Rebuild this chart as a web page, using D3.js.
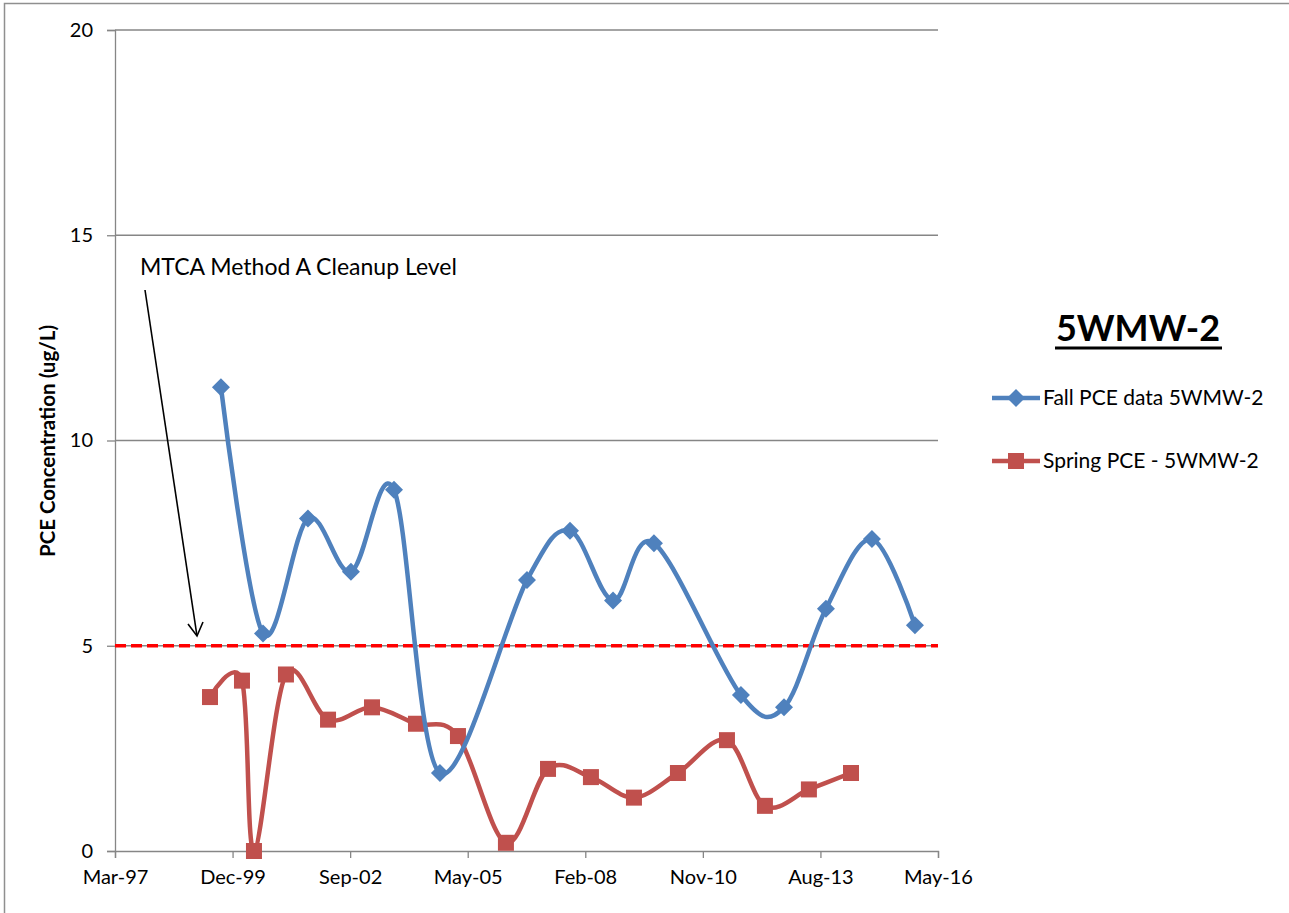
<!DOCTYPE html>
<html>
<head>
<meta charset="utf-8">
<script src="https://cdn.jsdelivr.net/npm/d3@7/dist/d3.min.js"></script>
<style>
  html, body { margin: 0; padding: 0; background: #fff; }
  svg { display: block; font-family: Lato, "Open Sans", sans-serif; }
</style>
</head>
<body>
<svg id="chart" width="1289" height="913"></svg>
<script>
// ---- data ----
const fallDates = ["1999-08-29","2000-08-21","2001-09-07","2002-09-08","2003-09-09","2004-10-04",
  "2006-10-14","2007-10-15","2008-10-15","2009-09-28","2011-10-08","2012-10-08","2013-09-30",
  "2014-10-26","2015-10-27"];
const fallValues = [11.3, 5.3, 8.1, 6.8, 8.8, 1.9, 6.6, 7.8, 6.1, 7.5, 3.8, 3.5, 5.9, 7.6, 5.5];

const springDates = ["1999-05-28","2000-02-24","2000-06-05","2001-03-04","2002-02-25","2003-03-06",
  "2004-03-14","2005-03-06","2006-04-18","2007-04-11","2008-04-10","2009-04-11","2010-04-20",
  "2011-06-11","2012-04-29","2013-05-08","2014-05-01"];
const springValues = [3.75, 4.15, 0, 4.3, 3.2, 3.5, 3.1, 2.8, 0.2, 2.0, 1.8, 1.3, 1.9, 2.7, 1.1, 1.5, 1.9];

const cleanupLevel = 5;
const yTicks = [0, 5, 10, 15, 20];
// Excel serial day numbers of the date-axis ticks (major unit 1000 days)
const xTickSerials = [35500, 36500, 37500, 38500, 39500, 40500, 41500, 42500];
const seriesNames = ["Fall PCE data 5WMW-2", "Spring PCE - 5WMW-2"];
const chartTitle = "5WMW-2";
const yTitle = "PCE Concentration (ug/L)";
const annotationText = "MTCA Method A Cleanup Level";

// ---- helpers ----
const serialToDate = s => new Date(Date.UTC(1899, 11, 30) + s * 86400000);
const parse = d3.utcParse("%Y-%m-%d");
const fall = fallDates.map((d, i) => ({ date: parse(d), value: fallValues[i] }));
const spring = springDates.map((d, i) => ({ date: parse(d), value: springValues[i] }));

const BLUE = "#4F81BD", RED = "#C0504D", GRID = "#868686";
const L = 115, R = 938, T = 30, B = 851;
const FONT = "Lato, 'Open Sans', sans-serif";

const svg = d3.select("#chart");

// outer border
svg.append("rect").attr("x", 4.5).attr("y", 3.5).attr("width", 1400).attr("height", 1000)
  .attr("fill", "none").attr("stroke", "#8f8f8f").attr("stroke-width", 1.5);

const x = d3.scaleUtc()
  .domain([serialToDate(xTickSerials[0]), serialToDate(xTickSerials[xTickSerials.length - 1])])
  .range([L, R]);
const y = d3.scaleLinear().domain([0, 20]).range([B, T]);

// gridlines
svg.append("g").selectAll("line").data(yTicks.filter(v => v > 0)).join("line")
  .attr("x1", L).attr("x2", R).attr("y1", d => y(d)).attr("y2", d => y(d))
  .attr("stroke", GRID).attr("stroke-width", 1.3);

// y axis
const yAxis = svg.append("g").attr("transform", `translate(${L},0)`)
  .call(d3.axisLeft(y).tickValues(yTicks).tickSize(8).tickPadding(14).tickFormat(d3.format("d")));
yAxis.select(".domain").attr("stroke", GRID).attr("stroke-width", 1.3);
yAxis.selectAll(".tick line").attr("stroke", GRID).attr("stroke-width", 1.3);
yAxis.selectAll(".tick text").attr("font-size", 20).attr("fill", "#000").attr("font-family", FONT);

// x axis
const xAxis = svg.append("g").attr("transform", `translate(0,${B})`)
  .call(d3.axisBottom(x).tickValues(xTickSerials.map(serialToDate)).tickSize(7).tickPadding(12)
    .tickFormat(d3.utcFormat("%b-%y")));
xAxis.select(".domain").attr("stroke", GRID).attr("stroke-width", 1.3);
xAxis.selectAll(".tick line").attr("stroke", GRID).attr("stroke-width", 1.3);
xAxis.selectAll(".tick text").attr("font-size", 20).attr("fill", "#000").attr("font-family", FONT);

// cleanup level line
svg.append("line")
  .attr("x1", x.range()[0]).attr("x2", x.range()[1])
  .attr("y1", y(cleanupLevel)).attr("y2", y(cleanupLevel))
  .attr("stroke", "#FF0000").attr("stroke-width", 3.5).attr("stroke-dasharray", "11,5");

// series
const line = d3.line().x(d => x(d.date)).y(d => y(d.value)).curve(d3.curveCatmullRom.alpha(0));

svg.append("path").datum(spring).attr("d", line)
  .attr("fill", "none").attr("stroke", RED).attr("stroke-width", 4.5).attr("stroke-linejoin", "round");
svg.append("g").selectAll("rect").data(spring).join("rect")
  .attr("x", d => x(d.date) - 8).attr("y", d => y(d.value) - 8)
  .attr("width", 16).attr("height", 16).attr("fill", RED);

svg.append("path").datum(fall).attr("d", line)
  .attr("fill", "none").attr("stroke", BLUE).attr("stroke-width", 4.5).attr("stroke-linejoin", "round");
const diamond = "M0,-9L9,0L0,9L-9,0Z";
svg.append("g").selectAll("path").data(fall).join("path")
  .attr("transform", d => `translate(${x(d.date)},${y(d.value)})`)
  .attr("d", diamond).attr("fill", BLUE);

// y title
svg.append("text").attr("transform", "translate(55,441) rotate(-90)")
  .attr("text-anchor", "middle").attr("font-size", 20.5).attr("font-weight", "bold")
  .text(yTitle);

// annotation
svg.append("text").attr("x", 140).attr("y", 275).attr("font-size", 23).text(annotationText);
svg.append("line").attr("x1", 145).attr("y1", 290).attr("x2", 197).attr("y2", 636)
  .attr("stroke", "#000").attr("stroke-width", 1.6);
svg.append("path").attr("d", "M188,624L197,636L203,622")
  .attr("fill", "none").attr("stroke", "#000").attr("stroke-width", 1.6);

// legend title
svg.append("text").attr("x", 1138).attr("y", 341).attr("text-anchor", "middle")
  .attr("font-size", 36).attr("font-weight", "bold").text(chartTitle);
svg.append("line").attr("x1", 1055).attr("x2", 1222).attr("y1", 348).attr("y2", 348)
  .attr("stroke", "#000").attr("stroke-width", 3);

// legend entries
const legend = svg.append("g");
const items = [{ name: seriesNames[0], color: BLUE, shape: "diamond", y: 398 },
               { name: seriesNames[1], color: RED, shape: "square", y: 461 }];
items.forEach(it => {
  legend.append("line").attr("x1", 992).attr("x2", 1040).attr("y1", it.y).attr("y2", it.y)
    .attr("stroke", it.color).attr("stroke-width", 4.5);
  if (it.shape === "diamond") {
    legend.append("path").attr("transform", `translate(1016,${it.y})`).attr("d", diamond).attr("fill", it.color);
  } else {
    legend.append("rect").attr("x", 1008).attr("y", it.y - 8).attr("width", 16).attr("height", 16).attr("fill", it.color);
  }
  legend.append("text").attr("x", 1043).attr("y", it.y + 7).attr("font-size", 21).text(it.name);
});
</script>
</body>
</html>
